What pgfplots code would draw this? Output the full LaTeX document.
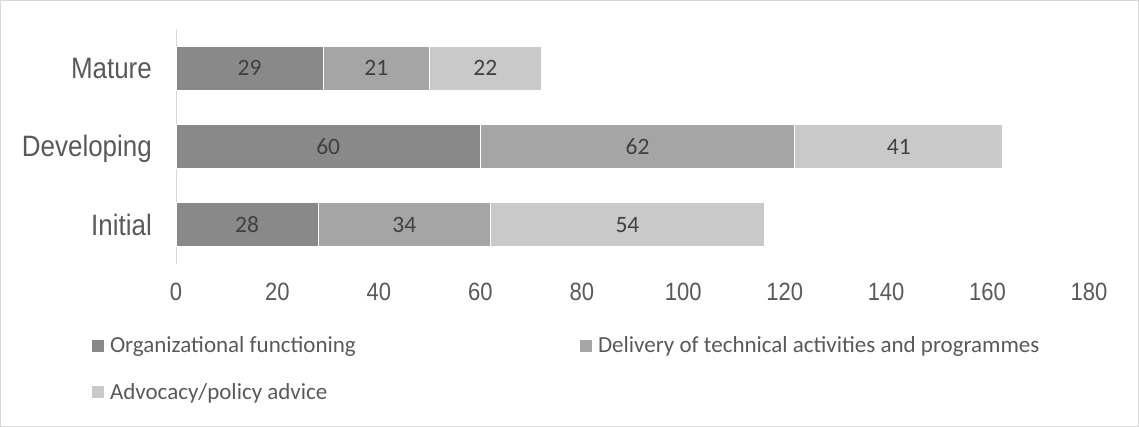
\documentclass[border=0pt]{standalone}
\usepackage{pgfplots}
\pgfplotsset{compat=1.18}
\usepackage{fontspec}
\setmainfont{Liberation Sans}
\newfontfamily\narrowsans[FakeStretch=0.88]{Liberation Sans}
\newfontfamily\carlito{Carlito}
\definecolor{cdark}{HTML}{898989}
\definecolor{cmid}{HTML}{A5A5A5}
\definecolor{clight}{HTML}{C9C9C9}
\definecolor{ctext}{HTML}{595959}
\definecolor{clabel}{HTML}{404040}
\definecolor{cframe}{HTML}{D9D9D9}
\begin{document}
\begin{tikzpicture}
\draw[cframe, line width=1bp] (0.5bp,0.5bp) rectangle (1138.5bp,426.5bp);
\begin{axis}[
  at={(176bp,163bp)}, anchor=south west,
  scale only axis, width=913bp, height=235bp,
  xbar stacked, bar width=44bp,
  xmin=0, xmax=180, ymin=-0.5, ymax=2.5,
  xtick={0,20,...,180}, ytick={0,1,2},
  yticklabels={Initial,Developing,Mature},
  axis y line*=left, axis x line*=bottom,
  x axis line style={draw=none},
  y axis line style={draw=cframe, line width=1bp},
  major tick length=0pt,
  /pgf/number format/assume math mode=true,
  xticklabel style={anchor=center, yshift=-28bp, font=\narrowsans\fontsize{25bp}{30bp}\selectfont, text=ctext},
  yticklabel style={anchor=base east, inner sep=0pt, xshift=-24bp, yshift=-10.5bp, font=\narrowsans\fontsize{29.5bp}{34bp}\selectfont, text=ctext},
  nodes near coords={\makebox[0pt]{\pgfmathprintnumber{\pgfplotspointmeta}}},
  every node near coord/.append style={inner sep=0pt, font=\carlito\fontsize{23.5bp}{27bp}\selectfont, text=clabel},
  legend columns=2,
  legend cell align=left,
  legend style={at={(axis description cs:-0.092,-0.310)}, anchor=north west, draw=none, fill=none, inner sep=0pt, outer sep=0pt, column sep=0pt, row sep=29bp, font=\carlito\fontsize{23bp}{27bp}\selectfont, text=ctext, nodes={inner sep=0pt}},
]
\addplot[fill=cdark, draw=white, line width=1bp,
  legend image code/.code={\fill[cdark, draw=none] (0bp,-6bp) rectangle (12bp,6bp);}]
  coordinates {(28,0) (60,1) (29,2)};
\addlegendentry{\hspace*{6bp}\makebox[470bp][l]{Organizational functioning}}
\addplot[fill=cmid, draw=white, line width=1bp,
  legend image code/.code={\fill[cmid, draw=none] (0bp,-6bp) rectangle (12bp,6bp);}]
  coordinates {(34,0) (62,1) (21,2)};
\addlegendentry{\hspace*{6bp}Delivery of technical activities and programmes}
\addplot[fill=clight, draw=white, line width=1bp,
  legend image code/.code={\fill[clight, draw=none] (0bp,-6bp) rectangle (12bp,6bp);}]
  coordinates {(54,0) (41,1) (22,2)};
\addlegendentry{\hspace*{6bp}Advocacy/policy advice}
\end{axis}
\end{tikzpicture}
\end{document}
